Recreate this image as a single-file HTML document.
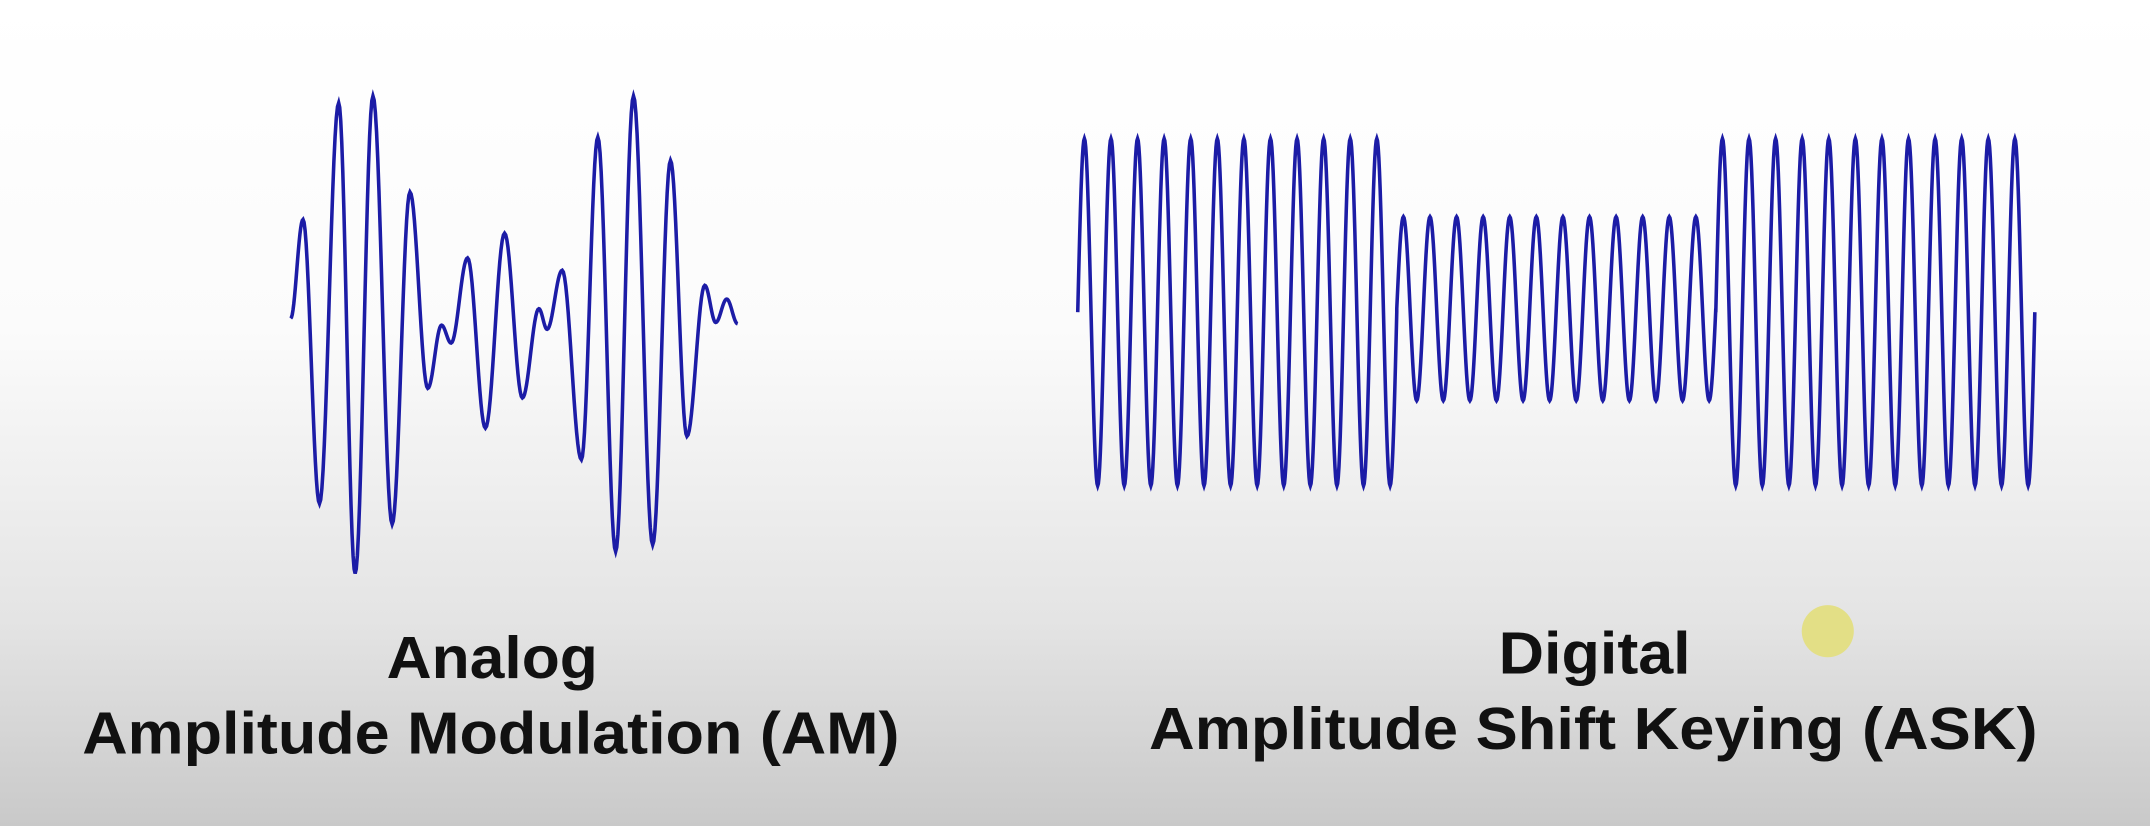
<!DOCTYPE html>
<html><head><meta charset="utf-8"><style>
html,body{margin:0;padding:0;width:2150px;height:826px;overflow:hidden}
svg{display:block}
</style></head><body>
<svg id="chart" width="2150" height="826" viewBox="0 0 1568 602" preserveAspectRatio="none" xmlns="http://www.w3.org/2000/svg">
<defs><linearGradient id="bg" x1="0" y1="0" x2="0" y2="1">
<stop offset="0" stop-color="#ffffff"/><stop offset="0.4" stop-color="#fbfbfb"/><stop offset="0.75" stop-color="#e4e4e4"/><stop offset="1" stop-color="#c9c9c9"/></linearGradient></defs>
<rect x="0" y="0" width="1568" height="602" fill="url(#bg)"/>
<path id="am" fill="none" stroke="#1c1ca6" stroke-width="2.6"/>
<path id="ask" fill="none" stroke="#1c1ca6" stroke-width="2.6"/>
<circle cx="1333" cy="460" r="19" fill="#e3df86"/>
<g font-family="Liberation Sans, sans-serif" font-weight="bold" font-size="43" fill="#111" text-anchor="middle" lengthAdjust="spacingAndGlyphs">
<text x="359" y="494" textLength="154" lengthAdjust="spacingAndGlyphs">Analog</text>
<text x="358" y="549" textLength="596" lengthAdjust="spacingAndGlyphs">Amplitude Modulation (AM)</text>
<text x="1163" y="491" textLength="140" lengthAdjust="spacingAndGlyphs">Digital</text>
<text x="1162" y="546" textLength="648" lengthAdjust="spacingAndGlyphs">Amplitude Shift Keying (ASK)</text>
</g>
</svg>
<script>
// AM waveform extremes (x, y)
const amX=[212,221,233,247,259,272,286,299,312,322,329,341,354,368,381,393,399,410,424,436,449,462,476,489,501,514,522,530,538];
const amY=[232,160,367,75,418,70,382,140,283,237,250,188,312,170,290,225,240,197,335,100,402,70,397,117,318,208,235,218,236];
// ASK bits and levels
const askBits=[1,0,1];
const askCyclesPerBit=12;
const askHigh=[101,354]; // top,bottom for bit 1
const askLow=[158,292];  // top,bottom for bit 0
const askStart=786, askEnd=1484;

function cosSeg(x0,y0,x1,y1,n){let s='';for(let i=1;i<=n;i++){const t=i/n;const f=(1-Math.cos(Math.PI*t))/2;s+=' L'+(x0+(x1-x0)*t).toFixed(2)+' '+(y0+(y1-y0)*f).toFixed(2);}return s;}
let d='M'+amX[0]+' '+amY[0];
for(let i=1;i<amX.length;i++)d+=cosSeg(amX[i-1],amY[i-1],amX[i],amY[i],16);
document.getElementById('am').setAttribute('d',d);

const bitW=(askEnd-askStart)/askBits.length;
let a='';
askBits.forEach((b,k)=>{
  const lv=b?askHigh:askLow;const mid=(lv[0]+lv[1])/2, amp=(lv[1]-lv[0])/2;
  const x0=askStart+k*bitW;const N=askCyclesPerBit*40;
  for(let i=0;i<=N;i++){const t=i/N;const x=x0+t*bitW;const y=mid-amp*Math.sin(2*Math.PI*askCyclesPerBit*t);
    a+=(a===''?'M':' L')+x.toFixed(2)+' '+y.toFixed(2);}
});
document.getElementById('ask').setAttribute('d',a);
</script>
</body></html>
